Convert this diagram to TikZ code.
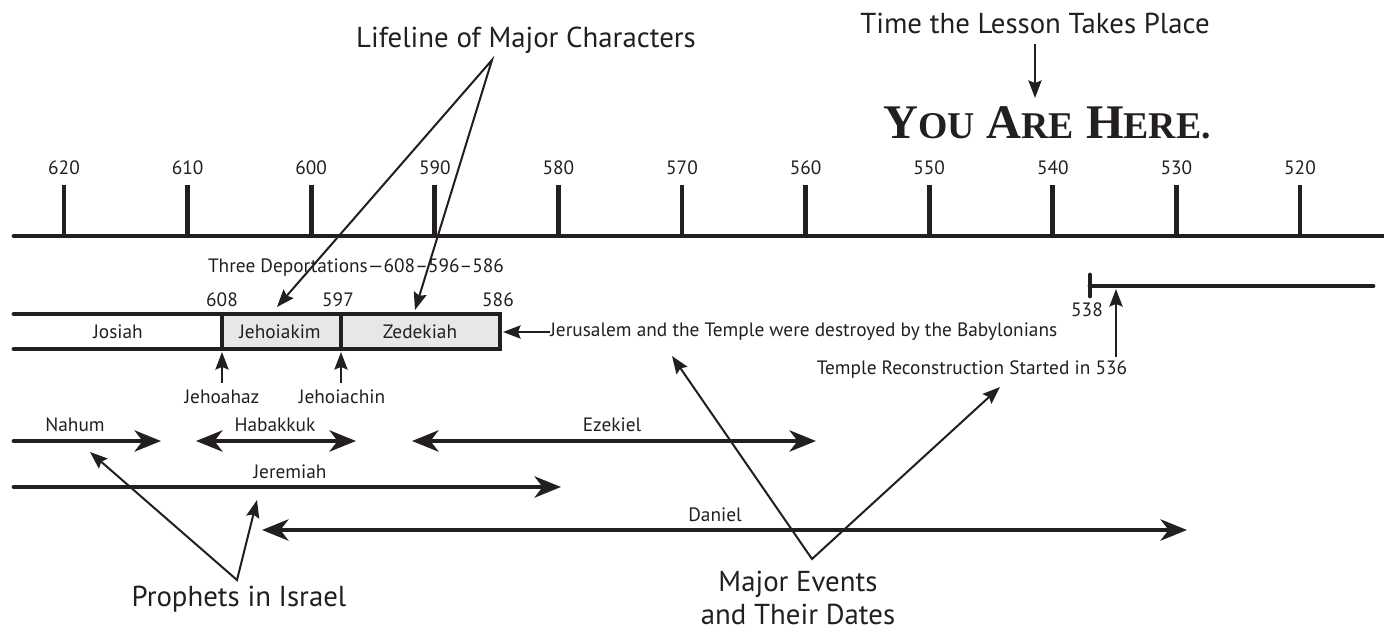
\documentclass[tikz,border=0pt]{standalone}
\usepackage{fontspec}
\setmainfont{PT Sans}
\newfontfamily\herefont{Liberation Serif}
\usetikzlibrary{arrows.meta}
\definecolor{ink}{HTML}{231F20}
\definecolor{reign}{HTML}{E6E7E8}
\newcommand\herecaps[2]{{\fontsize{27.5}{28}\selectfont #1}{\fontsize{21.5}{22}\selectfont #2}}
\tikzset{
  lbl/.style={font=\fontsize{11}{13}\selectfont, text=ink, inner sep=0pt},
  caption/.style={font=\fontsize{16.4}{19.3}\selectfont, text=ink, inner sep=0pt, align=center},
  heavy/.style={draw=ink, line width=2.8pt},
  span/.style={heavy, line cap=round, -{Stealth[length=15pt,width=12pt,inset=4.5pt]}},
  twoway/.style={heavy, {Stealth[length=15pt,width=12pt,inset=4.5pt]}-{Stealth[length=15pt,width=12pt,inset=4.5pt]}},
  pointer/.style={draw=ink, line width=1.15pt, -{Stealth[length=10pt,width=7.5pt,inset=1.5pt]}},
  bothpointer/.style={pointer, {Stealth[length=10pt,width=7.5pt,inset=1.5pt]}-{Stealth[length=10pt,width=7.5pt,inset=1.5pt]}},
  tickmark/.style={draw=ink, line width=2.8pt},
}
\begin{document}
\begin{tikzpicture}[x=0.02cm, y=-0.02cm]
   \useasboundingbox (0,0) rectangle (1384,635);
   % headings
   \node[caption] (life) at (526,40) {Lifeline of Major Characters};
   \node[caption] (time) at (1035,23) {Time the Lesson Takes Place};
   \node[text=ink, inner sep=0pt] (here) at (1047,123)
     {\herefont\bfseries\fontsize{27.5}{28}\selectfont\herecaps{Y}{OU} \herecaps{A}{RE} \herecaps{H}{ERE.}};
   \coordinate (nowtip) at (1035,98);
   \draw[pointer, shorten <=6pt] (time.south -| nowtip) -- (nowtip);
   % time line
   \coordinate (tl0) at (14,236);
   \coordinate (tl1) at (1390,236);
   \draw[heavy, line cap=round] (tl0) -- (tl1);
   \foreach \yr [count=\k from 0] in {620,610,...,520} {
     \node[lbl] (y\yr) at ({64+123.6*\k},168) {\yr};
     \coordinate (k\yr) at ({64+123.6*\k},185);
     \draw[tickmark] (k\yr) -- (k\yr |- tl0);
   }
   % kings
   \node[lbl] (dep) at (356,268) {Three Deportations---608--596--586};
   \fill[reign] (222,314) rectangle (500,349);
   \coordinate (b608) at (222,314);
   \coordinate (b597) at (341,314);
   \coordinate (b586) at (500,314);
   \coordinate (bot) at (14,349);
   \draw[heavy, line cap=round] (14,314) -- (b586) -- (b586 |- bot) -- (bot);
   \draw[heavy] (b608) -- (b608 |- bot);
   \draw[heavy] (b597) -- (b597 |- bot);
   \node[lbl] (n608) at (222,300) {608};
   \node[lbl] (n597) at (338,300) {597};
   \node[lbl] (n586) at (498,300) {586};
   \node[lbl] (josiah) at (118,332) {Josiah};
   \node[lbl] (jkim) at (280,332) {Jehoiakim};
   \node[lbl] (zed) at (420,332) {Zedekiah};
   \node[lbl, anchor=west] (jeru) at (550,332) {Jerusalem and the Temple were destroyed by the Babylonians};
   \draw[pointer] (jeru.west) -- (503,332);
   \node[lbl] (jhz) at (222,397) {Jehoahaz};
   \node[lbl] (jchn) at (342,397) {Jehoiachin};
   \draw[pointer, shorten <=4pt] (jhz.north) -- (jhz.north |- 0,352);
   \draw[pointer, shorten <=4pt] (b597 |- jchn.north) -- (b597 |- 0,352);
   % lifeline pointers
   \coordinate (lifeapex) at (492,60);
   \draw[bothpointer] (277,307) -- (lifeapex) -- (415,310);
   % return
   \coordinate (r538) at (1090,286);
   \coordinate (rend) at (1373,286);
   \draw[heavy, line cap=round] (1090,275) -- (1090,296);
   \draw[heavy, line cap=round] (r538) -- (rend);
   \node[lbl] (n538) at (1087,310) {538};
   \node[lbl] (temple) at (972,370) {Temple Reconstruction Started in 536};
   \coordinate (tmpl) at (1116,357);
   \draw[pointer] (tmpl) -- (1116,289);
   % prophets
   \node[lbl] (nahum) at (75,425) {Nahum};
   \draw[span] (14,441) -- (161,441);
   \node[lbl] (habak) at (275,425) {Habakkuk};
   \draw[twoway] (196,441) -- (356,441);
   \node[lbl] (ezek) at (612,425) {Ezekiel};
   \draw[twoway] (412,441) -- (816,441);
   \node[lbl] (jerem) at (290,472) {Jeremiah};
   \draw[span] (14,487) -- (561,487);
   \node[lbl] (dan) at (715,515) {Daniel};
   \draw[twoway] (262,530) -- (1187,530);
   % captions below
   \node[caption] (proph) at (239,599) {Prophets in Israel};
   \coordinate (propapex) at (237,580);
   \draw[bothpointer] (90,452) -- (propapex) -- (257,500);
   \node[caption] (events) at (798,598) {Major Events\\and Their Dates};
   \coordinate (evapex) at (812,559);
   \draw[bothpointer] (672,356) -- (evapex) -- (1000,387);
\end{tikzpicture}
\end{document}
